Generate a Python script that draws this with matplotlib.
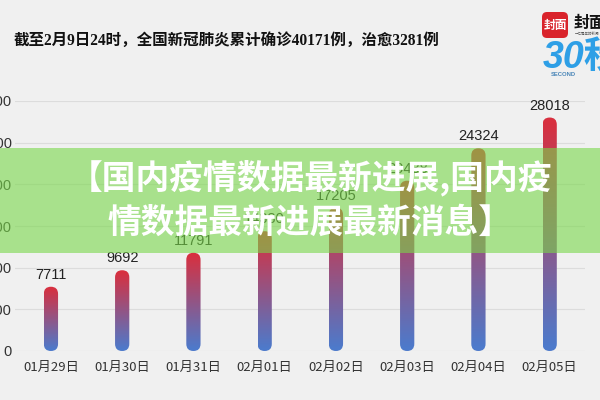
import numpy as np
import matplotlib
matplotlib.use('Agg')
import matplotlib.pyplot as plt
from matplotlib.patches import FancyBboxPatch, Rectangle
from matplotlib.colors import LinearSegmentedColormap

# ---- data ----
dates = ['01月29日', '01月30日', '01月31日', '02月01日',
         '02月02日', '02月03日', '02月04日', '02月05日']
confirmed = [7711, 9692, 11791, 14380, 17205, 20438, 24324, 28018]
yticks = [0, 5000, 10000, 15000, 20000, 25000, 30000]
title = '截至2月9日24时，全国新冠肺炎累计确诊40171例，治愈3281例'
overlay_lines = ['【国内疫情数据最新进展,国内疫', '情数据最新进展最新消息】']

BG = '#f0f0f0'
CJK = ['Noto Sans CJK SC', 'DejaVu Sans']

fig = plt.figure(figsize=(6, 4), dpi=100, facecolor=BG)
ax = fig.add_axes([0.0255, 0.1225, 0.95, 0.625])
ax.set_facecolor(BG)

x = np.arange(len(dates))
bars = ax.bar(x, confirmed, width=0.2, color='none', edgecolor='none', zorder=2)
ax.set_xlim(-0.5, len(dates) - 0.5)
ax.set_ylim(0, 30000)

# pixel aspect for round caps
p0 = ax.transData.transform((0, 0))
p1 = ax.transData.transform((1, 1))
ma = (p1[0] - p0[0]) / (p1[1] - p0[1])

cmap = LinearSegmentedColormap.from_list('g', ['#4d7acb', '#d8303f'])
grad = np.linspace(0, 1, 24).reshape(-1, 1)
for rect, v in zip(bars.patches, confirmed):
    x0, w, h = rect.get_x(), rect.get_width(), rect.get_height()
    patch = FancyBboxPatch((x0, 0), w, h,
                           boxstyle=f'round,pad=0,rounding_size={w / 2}',
                           mutation_aspect=ma, facecolor='none',
                           edgecolor='none', transform=ax.transData)
    ax.add_patch(patch)
    im = ax.imshow(grad, extent=[x0, x0 + w, 0, h], cmap=cmap,
                   aspect='auto', origin='lower', zorder=2,
                   interpolation='bilinear')
    im.set_clip_path(patch)
    ax.annotate(f'{v}', (x0 + w / 2, h), xytext=(0, 3.5),
                textcoords='offset points', ha='center', va='bottom',
                fontsize=10.5, color='#222222', family='Liberation Sans')

ax.set_xlim(-0.5, len(dates) - 0.5)
ax.set_ylim(0, 30000)
ax.set_yticks(yticks)
ax.set_yticklabels([str(t) for t in yticks], family='Liberation Sans',
                   fontsize=10.5, color='#333333')
ax.set_xticks(x)
ax.set_xticklabels(dates, family=CJK, fontsize=9.5, color='#333333')
ax.tick_params(axis='both', length=0)
ax.tick_params(axis='x', pad=7)
ax.tick_params(axis='y', pad=2.5)
ax.grid(axis='y', color='#dcdcdc', linewidth=0.8, zorder=0)
ax.set_axisbelow(True)
for s in ax.spines.values():
    s.set_visible(False)

# ---- overlay layer in pixel coordinates ----
ov = fig.add_axes([0, 0, 1, 1], zorder=5)
ov.set_xlim(0, 600)
ov.set_ylim(400, 0)
ov.set_facecolor('none')
ov.axis('off')

# title
ov.text(14, 41, title, ha='left', va='center', fontsize=11.2,
        fontweight='bold', color='#111111',
        family=['Liberation Serif', 'Noto Sans CJK SC', 'DejaVu Sans'])

# green band
ov.add_patch(Rectangle((0, 148), 600, 105, facecolor=(120/255, 215/255, 73/255),
                       alpha=0.6, edgecolor='none', zorder=1))
ov.text(310, 178, overlay_lines[0], ha='center', va='center', fontsize=24.3,
        fontweight='bold', color='white', family=CJK, zorder=2)
ov.text(310, 222, overlay_lines[1], ha='center', va='center', fontsize=24.3,
        fontweight='bold', color='white', family=CJK, zorder=2)

# logo
ov.add_patch(FancyBboxPatch((542, 12), 26, 26, boxstyle='round,pad=0,rounding_size=5',
                            facecolor='#d9232b', edgecolor='none'))
ov.text(555, 25.5, '封面', ha='center', va='center', fontsize=8.5,
        fontweight='bold', color='white', family=CJK)
ov.text(574, 23, '封面', ha='left', va='center', fontsize=11.5,
        fontweight='bold', color='#111111', family=CJK)
ov.text(575, 34, '一亿青年的新闻', ha='left', va='center', fontsize=2.5,
        color='#555555', family=CJK)
ov.text(543, 58, '30秒', ha='left', va='center', fontsize=27,
        fontweight='bold', style='italic', color='#2e9fe6',
        family=['Liberation Sans', 'Noto Sans CJK SC'])
ov.text(551, 74, 'SECOND', ha='left', va='center', fontsize=4.2,
        color='#4a86b8', family='Liberation Sans', fontweight='bold')

fig.savefig('out.png', dpi=100, facecolor=BG)
